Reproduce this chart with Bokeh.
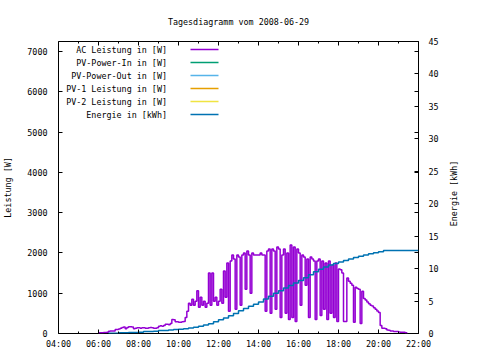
from math import pi
from bokeh.plotting import figure
from bokeh.layouts import row
from bokeh.models import Range1d, LinearAxis, FixedTicker, Label, BoxAnnotation
from bokeh.embed import file_html
from bokeh.resources import INLINE

# ---------------- data ----------------
title_text = "Tagesdiagramm vom 2008-06-29"
left_label = "Leistung [W]"
right_label = "Energie [kWh]"

series_names = ["AC Leistung in [W]", "PV-Power-In in [W]", "PV-Power-Out in [W]",
                "PV-1 Leistung in [W]", "PV-2 Leistung in [W]", "Energie in [kWh]"]
series_colors = ["#9400D3", "#009E73", "#56B4E9", "#E69F00", "#F0E442", "#0072B2"]

x_ticks = [4, 6, 8, 10, 12, 14, 16, 18, 20, 22]
x_tick_labels = ["04:00", "06:00", "08:00", "10:00", "12:00", "14:00",
                 "16:00", "18:00", "20:00", "22:00"]
x_minor_ticks = [5, 7, 9, 11, 13, 15, 17, 19, 21]
power_ticks = [0, 1000, 2000, 3000, 4000, 5000, 6000, 7000]
energy_ticks = [0, 5, 10, 15, 20, 25, 30, 35, 40, 45]

# AC power, one reading every 5 minutes from 06:00
ac_start_hour = 6.0
ac_step_minutes = 5
ac_watts = [
    20, 20, 20, 25, 25, 30, 55, 60, 60, 60, 100, 100,                 # 06
    110, 130, 150, 160, 120, 150, 170, 170, 160, 120, 130, 140,       # 07
    140, 130, 140, 140, 130, 130, 140, 150, 140, 130, 130, 140,       # 08
    180, 190, 180, 200, 230, 230, 220, 250, 350, 340, 290, 290,       # 09
    280, 280, 290, 300, 400, 550, 750, 700, 850, 700, 800, 1060,      # 10
    650, 900, 700, 800, 650, 750, 1500, 700, 1500, 800, 900, 700,     # 11
    800, 1100, 750, 1550, 900, 1750, 550, 1800, 1950, 1850, 600, 1950,  # 12
    1900, 700, 1950, 2000, 1100, 2050, 1950, 1000, 2000, 1950, 1950, 1950,  # 13
    1950, 2000, 1950, 1950, 550, 2050, 2100, 500, 2100, 2050, 600, 2150,  # 14
    2100, 400, 1950, 2100, 500, 2000, 350, 2200, 400, 2150, 300, 2100,    # 15
    2000, 700, 1950, 1900, 1200, 1850, 400, 1900, 1850, 1800, 350, 1800,  # 16
    1850, 450, 1800, 600, 1750, 350, 1800, 500, 1700, 400, 1750, 300,     # 17
    1600, 1580, 1500, 300, 300, 1380, 1300, 1250, 1200, 280, 1150, 1120,  # 18
    1100, 250, 1050, 870, 830, 780, 740, 700, 680, 640, 600, 560,         # 19
    520, 200, 130, 130, 120, 90, 80, 60, 60, 50, 50, 50,                  # 20
    40, 30, 30, 30, 20, 0,                                                # 21
]

# Energy, one reading every 15 minutes from 06:30
energy_start_hour = 6.5
energy_step_minutes = 15
energy_kwh = [
    0.05, 0.05, 0.1, 0.1, 0.15, 0.15,                   # 06:30 - 07:45
    0.2, 0.3, 0.3, 0.35, 0.45, 0.45, 0.55, 0.6,         # 08 - 09
    0.65, 0.75, 0.85, 0.95, 1.1, 1.3, 1.5, 1.8,         # 10 - 11
    2.1, 2.4, 2.75, 3.1, 3.5, 3.85, 4.2, 4.5,           # 12 - 13
    4.85, 5.3, 5.75, 6.2, 6.6, 7.0, 7.4, 7.8,           # 14 - 15
    8.15, 8.6, 9.05, 9.5, 9.9, 10.25, 10.55, 10.8,      # 16 - 17
    11.0, 11.25, 11.5, 11.7, 11.9, 12.1, 12.3, 12.45,   # 18 - 19
    12.6, 12.8, 12.8, 12.8, 12.8, 12.8, 12.8, 12.8,     # 20 - 21
    12.8,                                               # 22:00
]

pv_in_watts = []
pv_out_watts = []
pv1_watts = []
pv2_watts = []

ac_hours = [ac_start_hour + i * ac_step_minutes / 60 for i in range(len(ac_watts))]
energy_hours = [energy_start_hour + i * energy_step_minutes / 60 for i in range(len(energy_kwh))]

# ---------------- figure ----------------
FONT = "DejaVu Sans Mono"
FS = "8.4px"

p = figure(width=448, height=360,
           x_range=Range1d(4, 22), y_range=Range1d(0, 7250),
           output_backend="svg", toolbar_location=None,
           min_border_left=58, min_border_right=30, min_border_top=40, min_border_bottom=27,
           background_fill_color="white", border_fill_color="white",
           outline_line_color="black", outline_line_width=1)
p.extra_y_ranges = {"energy": Range1d(0, 45)}
p.xgrid.visible = False
p.ygrid.visible = False

p.title.text = title_text
p.title.align = "center"
p.title.offset = -13.5
p.title.standoff = 29
p.title.text_font = FONT
p.title.text_font_size = FS
p.title.text_font_style = "normal"
p.title.text_color = "black"


def style_axis(ax, labels=True):
    ax.axis_line_color = None
    ax.major_tick_line_color = "black"
    ax.minor_tick_line_color = "black"
    ax.major_tick_in = 4
    ax.major_tick_out = 0
    ax.minor_tick_in = 2
    ax.minor_tick_out = 0
    ax.major_label_text_font = FONT
    ax.major_label_text_color = "black"
    ax.axis_label_text_font = FONT
    ax.axis_label_text_font_size = FS
    ax.axis_label_text_font_style = "normal"
    ax.axis_label_text_color = "black"
    if labels:
        ax.major_label_text_font_size = FS
    else:
        ax.major_label_text_font_size = "0px"
        ax.major_label_standoff = 0


# bottom axis
xa = p.xaxis[0]
xa.ticker = FixedTicker(ticks=x_ticks, minor_ticks=x_minor_ticks)
xa.major_label_overrides = {t: l for t, l in zip(x_ticks, x_tick_labels)}
style_axis(xa)
xa.major_label_standoff = 5

# left axis
ya = p.yaxis[0]
ya.ticker = FixedTicker(ticks=power_ticks, minor_ticks=[])
style_axis(ya)
ya.major_label_standoff = 11
ya.axis_label = left_label
ya.axis_label_standoff = 11

# top mirror axis
top = LinearAxis(ticker=FixedTicker(ticks=x_ticks, minor_ticks=x_minor_ticks))
style_axis(top, labels=False)
p.add_layout(top, "above")

# right mirror axis (power ticks)
rmirror = LinearAxis(ticker=FixedTicker(ticks=power_ticks, minor_ticks=[]))
style_axis(rmirror, labels=False)
p.add_layout(rmirror, "right")

# right energy axis
ra = LinearAxis(y_range_name="energy", ticker=FixedTicker(ticks=energy_ticks, minor_ticks=[]))
style_axis(ra)
ra.major_label_standoff = 10
p.add_layout(ra, "right")

# ---------------- series ----------------
p.step(ac_hours, ac_watts, mode="after", line_color=series_colors[0], line_width=1.5)
p.line(list(range(len(pv_in_watts))), pv_in_watts, line_color=series_colors[1], line_width=1.5)
p.line(list(range(len(pv_out_watts))), pv_out_watts, line_color=series_colors[2], line_width=1.5)
p.line(list(range(len(pv1_watts))), pv1_watts, line_color=series_colors[3], line_width=1.5)
p.line(list(range(len(pv2_watts))), pv2_watts, line_color=series_colors[4], line_width=1.5)
p.step(energy_hours, energy_kwh, mode="after", y_range_name="energy",
       line_color=series_colors[5], line_width=1.5)

# ---------------- key (gnuplot style: text left, sample line right) ----------------
KEY_TEXT_RIGHT = 108.5
KEY_SAMPLE_LEFT = 132
KEY_SAMPLE_RIGHT = 160
KEY_TOP_ROW = 284
KEY_ROW_STEP = 13
for i, (name, color) in enumerate(zip(series_names, series_colors)):
    yrow = KEY_TOP_ROW - KEY_ROW_STEP * i
    p.add_layout(Label(x=KEY_TEXT_RIGHT, y=yrow, x_units="screen", y_units="screen",
                       text=name, text_align="right", text_baseline="middle",
                       text_font=FONT, text_font_size=FS, text_color="black"))
    p.add_layout(BoxAnnotation(left=KEY_SAMPLE_LEFT, right=KEY_SAMPLE_RIGHT,
                               bottom=yrow - 0.75, top=yrow + 0.75,
                               left_units="screen", right_units="screen",
                               bottom_units="screen", top_units="screen",
                               fill_color=color, fill_alpha=1.0, line_color=None))

# ---------------- right-hand strip with the secondary axis title ----------------
side = figure(width=32, height=360, x_range=Range1d(0, 1), y_range=Range1d(0, 1),
              output_backend="svg", toolbar_location=None,
              x_axis_location=None, y_axis_location=None, min_border=0,
              background_fill_color="white", border_fill_color="white",
              outline_line_color=None)
side.xgrid.visible = False
side.ygrid.visible = False
side.add_layout(Label(x=5, y=140, x_units="screen", y_units="screen", angle=pi / 2,
                      text=right_label, text_align="center", text_baseline="middle",
                      text_font=FONT, text_font_size=FS, text_color="black"))

layout = row(p, side, spacing=0)
open("out.html", "w").write(file_html(layout, INLINE))
